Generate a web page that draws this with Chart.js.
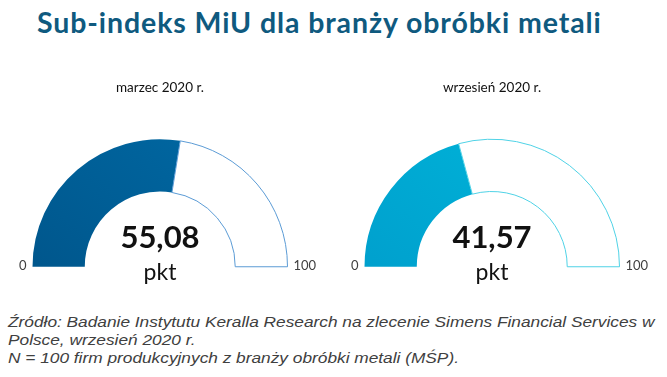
<!DOCTYPE html>
<html>
<head>
<meta charset="utf-8">
<script src="https://cdn.jsdelivr.net/npm/chart.js@4.4.1/dist/chart.umd.min.js"></script>
<style>
  body { margin: 0; width: 667px; height: 377px; background: #fff; position: relative; overflow: hidden; font-family: Lato, sans-serif; }
  .title { position: absolute; left: 37px; top: 5px; font-weight: bold; font-size: 28.5px; letter-spacing: 0.9px; color: #0f5a7f; white-space: nowrap; }
  .gauge { position: absolute; top: 60px; width: 320px; height: 240px; }
  .note { position: absolute; left: 8px; top: 313px; font-family: "Liberation Sans", sans-serif; font-style: italic; font-size: 15.5px; line-height: 18px; color: #404040; white-space: nowrap; transform: scaleX(1.115); transform-origin: 0 0; }
</style>
</head>
<body>
<div class="title">Sub-indeks MiU dla branży obróbki metali</div>
<div class="gauge" style="left:0px"><canvas id="gauge-1"></canvas></div>
<div class="gauge" style="left:332px"><canvas id="gauge-2"></canvas></div>
<div class="note">Źródło: Badanie Instytutu Keralla Research na zlecenie Simens Financial Services w<br>Polsce, wrzesień 2020 r.<br>N = 100 firm produkcyjnych z branży obróbki metali (MŚP).</div>
<script>
// values
const periods = ['marzec 2020 r.', 'wrzesień 2020 r.'];
const indexValues = [55.08, 41.57];
const scaleMin = 0;
const scaleMax = 100;
const unitLabel = 'pkt';
const fillColors = [['#005388', '#0066a0'], ['#009ccb', '#00b2d8']];
const rimColors = ['#5b9bd5', '#4fd2e6'];

// slight shading of the filled part, like the original; rest stays white
function shade(i) {
  return function(context) {
    if (context.dataIndex !== 0) return '#ffffff';
    const chart = context.chart;
    const a = chart.chartArea;
    if (!a) return fillColors[i][1];
    const g = chart.ctx.createLinearGradient(a.left, a.bottom, a.left + (a.right - a.left) / 2, a.top);
    g.addColorStop(0, fillColors[i][0]);
    g.addColorStop(1, fillColors[i][1]);
    return g;
  };
}

// texts around each half doughnut
const gaugeText = {
  id: 'gaugeText',
  afterDraw(chart, args, opts) {
    const arc = chart.getDatasetMeta(0).data[0];
    if (!arc) return;
    const ctx = chart.ctx;
    const x = arc.x, y = arc.y, r = arc.outerRadius;
    ctx.save();
    ctx.fillStyle = '#111';
    ctx.textAlign = 'center';
    ctx.textBaseline = 'alphabetic';
    ctx.font = '13.5px Lato';
    ctx.fillText(opts.period, x, 32);
    ctx.font = 'bold 31px Lato';
    ctx.fillText(opts.value.toFixed(2).replace('.', ','), x, y - 19);
    ctx.font = '23px Lato';
    ctx.fillText(unitLabel, x, y + 13);
    ctx.fillStyle = '#404040';
    ctx.font = '13px Lato';
    ctx.textBaseline = 'middle';
    ctx.textAlign = 'right';
    ctx.fillText(String(scaleMin), x - r - 6, y - 1);
    ctx.textAlign = 'left';
    ctx.fillText(String(scaleMax), x + r + 6, y - 1);
    ctx.restore();
  }
};

function makeGauge(id, i) {
  const ctx = document.getElementById(id).getContext('2d');
  return new Chart(ctx, {
    type: 'doughnut',
    data: {
      labels: ['wartość', 'reszta'],
      datasets: [{
        data: [indexValues[i] - scaleMin, scaleMax - indexValues[i]],
        backgroundColor: shade(i),
        borderColor: [fillColors[i][1], rimColors[i]],
        borderWidth: [0, 1]
      }]
    },
    options: {
      responsive: true,
      maintainAspectRatio: false,
      animation: false,
      events: [],
      rotation: -90,
      circumference: 180,
      radius: 127.5,
      cutout: '59%',
      layout: { padding: { top: 46, bottom: 0, left: 0, right: 0 } },
      plugins: {
        legend: { display: false },
        tooltip: { enabled: false },
        gaugeText: { period: periods[i], value: indexValues[i] }
      }
    },
    plugins: [gaugeText]
  });
}

makeGauge('gauge-1', 0);
makeGauge('gauge-2', 1);
</script>
</body>
</html>
